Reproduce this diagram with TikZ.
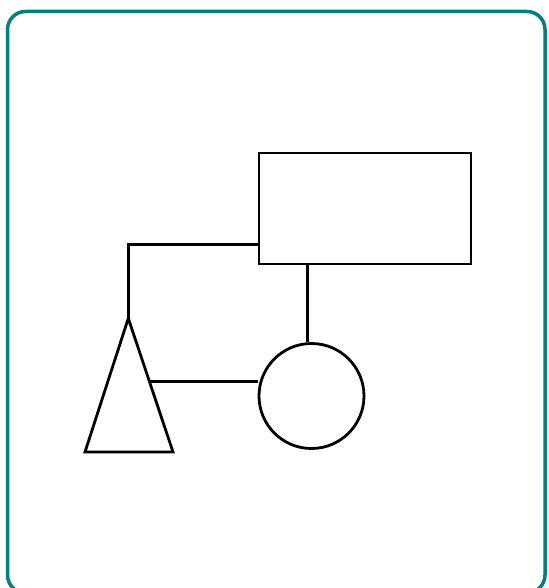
\documentclass[tikz,border=0pt]{standalone}
\usetikzlibrary{calc}
\definecolor{frameteal}{RGB}{0,128,126}
\begin{document}
\begin{tikzpicture}[x=1pt,y=-1pt,
  shapeline/.style={draw=black,line width=2.8pt},
  conn/.style={draw=black,line width=2.8pt},
  boxnode/.style={shapeline,rectangle,inner sep=0pt,minimum width=212pt,minimum height=111pt},
  circnode/.style={shapeline,circle,inner sep=0pt,minimum size=105pt}]
\useasboundingbox (0,0) rectangle (548,588);
\clip (0,0) rectangle (548,588);
\draw[frameteal,line width=3.5pt,rounded corners=18pt] (7.5,11.5) rectangle (545,593);
\node[boxnode] (box) at (365,208.5) {};
\node[circnode] (circ) at (311.5,396) {};
\coordinate (apex) at (128.3,318.3);
\coordinate (bl) at (85,452);
\coordinate (br) at (173,452);
\draw[shapeline,line join=miter] (apex) -- (bl) -- (br) -- cycle;
\coordinate (triside) at ($(apex)!0.474!(br)$);
\coordinate (corner) at (128.3,244.3);
\draw[conn] (apex) -- (corner) -- (corner -| box.west);
\draw[conn] (box.south -| 307.7,0) -- (circ.north -| 307.7,0);
\draw[conn] (triside) -- (triside -| circ.west);
\end{tikzpicture}
\end{document}
